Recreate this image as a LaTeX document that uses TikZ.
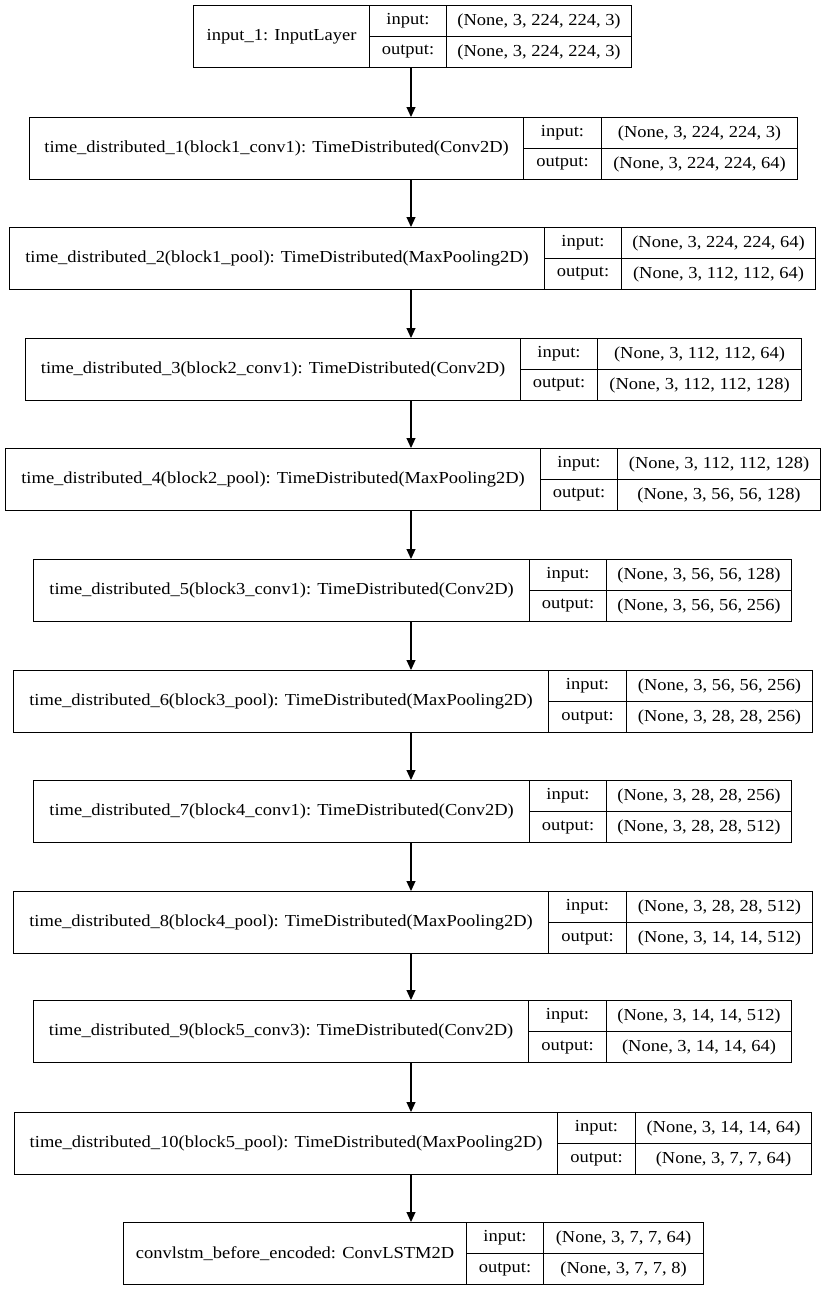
\documentclass[tikz,border=0pt]{standalone}
\usepackage{fontspec}
\setmainfont{Liberation Serif}[FakeStretch=1.1]
\usepackage{tikz}
\usetikzlibrary{
	arrows.meta,
	calc,
	positioning
}
\tikzset{
	cell/.style={draw, line width=1.1pt, inner sep=0pt, anchor=north west,
		font=\fontsize{16.8}{18}\selectfont},
	flow/.style={line width=1.1pt, -{Triangle[length=10pt,width=9pt]}}
}
% #1 name, #2 top, #3 left, #4 first divider, #5 second divider, #6 right,
% #7 layer text, #8 input shape, #9 output shape
\newcommand{\layerrow}[9]{%
	\node[cell, minimum width={#4-#3}, minimum height=62] (#1) at (#3,#2) {#7};
	\node[cell, minimum width={#5-#4}, minimum height=31] (#1in) at (#4,#2) {input:};
	\node[cell, minimum width={#5-#4}, minimum height=31] (#1out) at (#4,#2+31) {output:};
	\node[cell, minimum width={#6-#5}, minimum height=31] (#1inv) at (#5,#2) {#8};
	\node[cell, minimum width={#6-#5}, minimum height=31] (#1outv) at (#5,#2+31) {#9};
}

\begin{document}
\begin{tikzpicture}[x=1pt, y=-1pt]
		\useasboundingbox (0,0) rectangle (825,1291);
		\coordinate (axis) at (411,0);
		\layerrow{L1}{5}{193}{369}{446}{631}{input\_1: InputLayer}{(None, 3, 224, 224, 3)}{(None, 3, 224, 224, 3)}
		\layerrow{L2}{117}{29}{523}{601}{797}{time\_distributed\_1(block1\_conv1): TimeDistributed(Conv2D)}{(None, 3, 224, 224, 3)}{(None, 3, 224, 224, 64)}
		\layerrow{L3}{227}{9}{544}{621}{815}{time\_distributed\_2(block1\_pool): TimeDistributed(MaxPooling2D)}{(None, 3, 224, 224, 64)}{(None, 3, 112, 112, 64)}
		\layerrow{L4}{338}{25}{520}{597}{801}{time\_distributed\_3(block2\_conv1): TimeDistributed(Conv2D)}{(None, 3, 112, 112, 64)}{(None, 3, 112, 112, 128)}
		\layerrow{L5}{448}{5}{540}{617}{820}{time\_distributed\_4(block2\_pool): TimeDistributed(MaxPooling2D)}{(None, 3, 112, 112, 128)}{(None, 3, 56, 56, 128)}
		\layerrow{L6}{559}{33}{529}{606}{791}{time\_distributed\_5(block3\_conv1): TimeDistributed(Conv2D)}{(None, 3, 56, 56, 128)}{(None, 3, 56, 56, 256)}
		\layerrow{L7}{670}{13}{548}{626}{812}{time\_distributed\_6(block3\_pool): TimeDistributed(MaxPooling2D)}{(None, 3, 56, 56, 256)}{(None, 3, 28, 28, 256)}
		\layerrow{L8}{780}{33}{529}{606}{791}{time\_distributed\_7(block4\_conv1): TimeDistributed(Conv2D)}{(None, 3, 28, 28, 256)}{(None, 3, 28, 28, 512)}
		\layerrow{L9}{891}{13}{548}{626}{812}{time\_distributed\_8(block4\_pool): TimeDistributed(MaxPooling2D)}{(None, 3, 28, 28, 512)}{(None, 3, 14, 14, 512)}
		\layerrow{L10}{1000}{33}{528}{606}{791}{time\_distributed\_9(block5\_conv3): TimeDistributed(Conv2D)}{(None, 3, 14, 14, 512)}{(None, 3, 14, 14, 64)}
		\layerrow{L11}{1112}{14}{557}{635}{811}{time\_distributed\_10(block5\_pool): TimeDistributed(MaxPooling2D)}{(None, 3, 14, 14, 64)}{(None, 3, 7, 7, 64)}
		\layerrow{L12}{1222}{123}{466}{543}{703}{convlstm\_before\_encoded: ConvLSTM2D}{(None, 3, 7, 7, 64)}{(None, 3, 7, 7, 8)}
		\foreach \i [count=\j from 2] in {1,...,11}
			\draw[flow] (L\i.south -| axis) -- (L\j.north -| axis);
	\end{tikzpicture}
\end{document}
